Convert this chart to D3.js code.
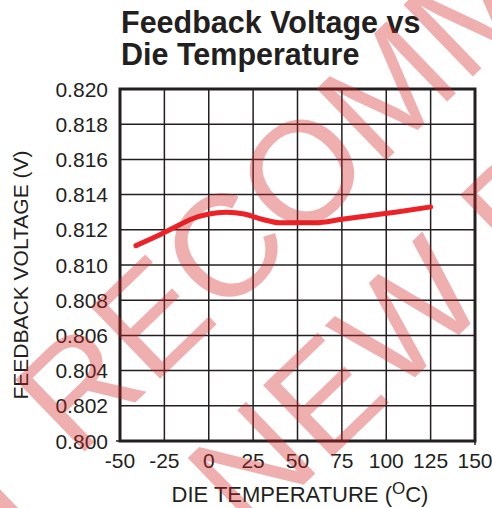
<!DOCTYPE html>
<html>
<head>
<meta charset="utf-8">
<script src="https://cdn.jsdelivr.net/npm/d3@7"></script>
<style>
  html, body { margin: 0; padding: 0; background: #fff; }
  svg { display: block; font-family: "Liberation Sans", Arial, Helvetica, sans-serif; }
</style>
</head>
<body>
<svg id="chart" width="492" height="508"></svg>
<script>
// ---- data ----
const titleLines = ["Feedback Voltage vs", "Die Temperature"];
const xTicks = [-50, -25, 0, 25, 50, 75, 100, 125, 150];
const yTicks = [0.800, 0.802, 0.804, 0.806, 0.808, 0.810, 0.812, 0.814, 0.816, 0.818, 0.820];
const temperature = [-41, -30, -20, -10, 0, 10, 20, 30, 40, 50, 60, 75, 90, 105, 125];
const voltage = [0.8111, 0.8116, 0.8121, 0.8126, 0.8129, 0.8130, 0.8129, 0.8126, 0.8124, 0.8124, 0.8124, 0.8126, 0.8128, 0.8130, 0.8133];
const xLabel = "DIE TEMPERATURE (";
const yLabel = "FEEDBACK VOLTAGE (V)";
const watermarkLines = ["NOT RECOMMENDED", "FOR NEW DESIGNS"];

// ---- layout ----
const svg = d3.select("#chart");
const pLeft = 120, pRight = 475, pTop = 89, pBottom = 441;
const ink = "#231f20";

const x = d3.scaleLinear().domain([-50, 150]).range([pLeft, pRight]);
const y = d3.scaleLinear().domain([0.800, 0.820]).range([pBottom, pTop]);

// title
svg.append("g").selectAll("text").data(titleLines).join("text")
  .attr("x", 121).attr("y", (d, i) => 33 + i * 32)
  .attr("font-size", 30.5).attr("font-weight", "bold").attr("fill", ink)
  .text(d => d);

// grid
const grid = svg.append("g");
grid.selectAll("line.v").data(xTicks.slice(1, -1)).join("line")
  .attr("class", "v")
  .attr("x1", d => x(d)).attr("x2", d => x(d))
  .attr("y1", pTop).attr("y2", pBottom)
  .attr("stroke", ink).attr("stroke-width", 1.5);
grid.selectAll("line.h").data(yTicks.slice(1, -1)).join("line")
  .attr("class", "h")
  .attr("x1", pLeft).attr("x2", pRight)
  .attr("y1", d => y(d)).attr("y2", d => y(d))
  .attr("stroke", ink).attr("stroke-width", 1.5);

// frame
svg.append("rect")
  .attr("x", pLeft).attr("y", pTop)
  .attr("width", pRight - pLeft).attr("height", pBottom - pTop)
  .attr("fill", "none").attr("stroke", ink).attr("stroke-width", 3);

// small outer ticks at the corner ends
svg.append("line").attr("x1", pLeft - 4).attr("x2", pLeft).attr("y1", y(0.800)).attr("y2", y(0.800))
  .attr("stroke", ink).attr("stroke-width", 1.5);
svg.append("line").attr("x1", x(150)).attr("x2", x(150)).attr("y1", pBottom).attr("y2", pBottom + 4)
  .attr("stroke", ink).attr("stroke-width", 1.5);

// y tick labels
svg.append("g").selectAll("text").data(yTicks).join("text")
  .attr("x", 108).attr("y", d => y(d)).attr("dy", "0.36em")
  .attr("text-anchor", "end").attr("font-size", 21).attr("fill", ink)
  .text(d => d3.format(".3f")(d));

// x tick labels
svg.append("g").selectAll("text").data(xTicks).join("text")
  .attr("x", d => x(d)).attr("y", 468)
  .attr("text-anchor", "middle").attr("font-size", 21).attr("fill", ink)
  .text(d => d);

// axis titles
const xt = svg.append("text")
  .attr("x", 300).attr("y", 502).attr("text-anchor", "middle")
  .attr("font-size", 22).attr("fill", ink);
xt.append("tspan").text(xLabel);
xt.append("tspan").attr("font-size", 17).attr("dy", -8).text("O");
xt.append("tspan").attr("dy", 8).text("C)");

svg.append("text")
  .attr("transform", "translate(28,275) rotate(-90)")
  .attr("text-anchor", "middle").attr("font-size", 21).attr("fill", ink)
  .text(yLabel);

// data line
const line = d3.line().x((d, i) => x(temperature[i])).y(d => y(d)).curve(d3.curveMonotoneX);
svg.append("path").datum(voltage)
  .attr("d", line).attr("fill", "none")
  .attr("stroke", "#ec2227").attr("stroke-width", 5)
  .attr("stroke-linecap", "round").attr("stroke-linejoin", "round");

// watermark
const wm = svg.append("g").attr("transform", "translate(433,236) rotate(-44)");
wm.selectAll("text").data(watermarkLines).join("text")
  .attr("x", 0).attr("y", (d, i) => i === 0 ? -87 : 89)
  .attr("text-anchor", "middle").attr("font-size", 145)
  .attr("fill", "#d42020").attr("fill-opacity", 0.36)
  .text(d => d);
</script>
</body>
</html>
